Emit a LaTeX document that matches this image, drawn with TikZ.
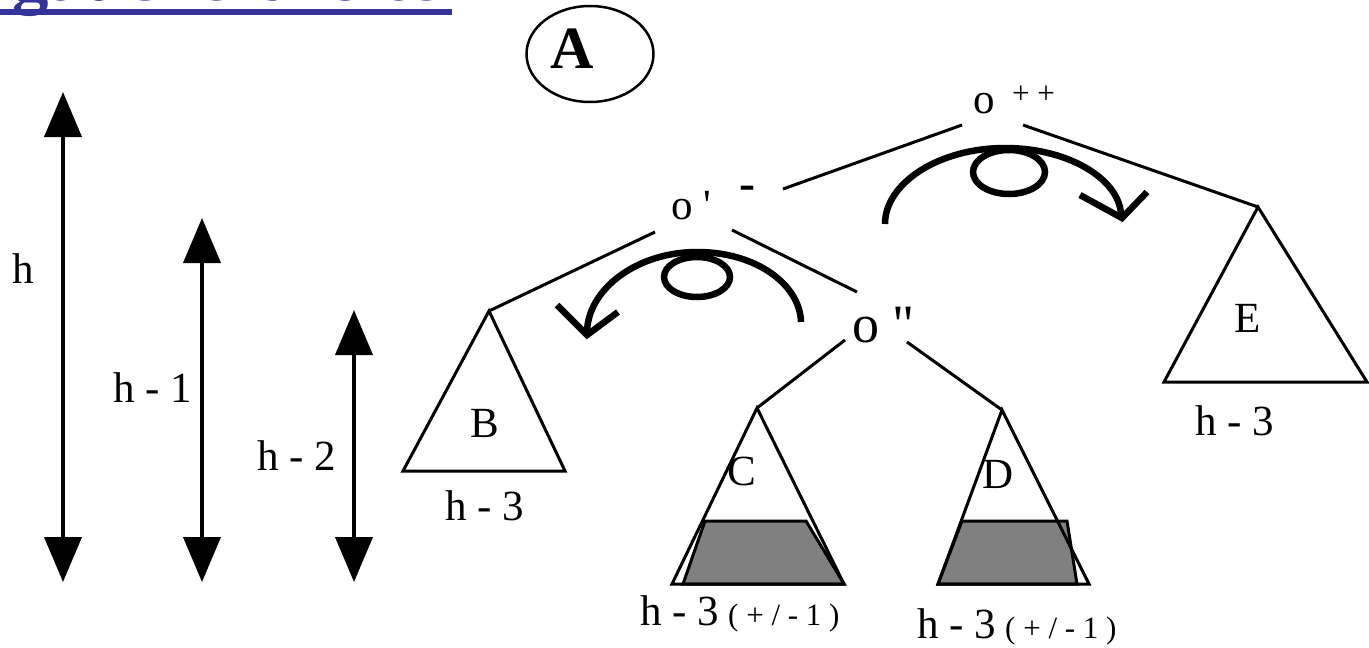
\documentclass[tikz,border=0pt]{standalone}
\usepackage{fontspec}
\setmainfont{Liberation Serif}
\newfontfamily\rawserif{Liberation Serif}
\usetikzlibrary{arrows.meta,shapes.geometric}
\definecolor{titleblue}{RGB}{51,51,153}
\definecolor{shade}{RGB}{128,128,128}
\begin{document}
\begin{tikzpicture}[x=1pt,y=-1pt,
  lbl/.style={font=\fontsize{43}{48}\selectfont, inner sep=0, anchor=base west},
  sm/.style={font=\fontsize{31}{33}\selectfont, inner sep=0, anchor=base west},
  edge/.style={line width=3pt},
  tri/.style={line width=3pt, line join=miter},
  rot/.style={line width=6.5pt},
  vtip/.style={line width=6.5pt, line join=miter},
  dimarrow/.style={line width=4pt, {Triangle[length=45pt,width=37pt]}-{Triangle[length=45pt,width=37pt]}}]
\useasboundingbox (0,0) rectangle (1369,648);
\fill[white] (0,0) rectangle (1369,648);

% cut-off title
\begin{scope}
\clip (0,0) rectangle (1369,648);
\node[font=\bfseries\fontsize{73}{80}\selectfont, text=titleblue, inner sep=0, anchor=base west] (title) at (12,0) {gauche-droite};
\end{scope}
\fill[titleblue] (0,9) rectangle (452,15);

% height arrows
\coordinate (h1t) at (63,92);  \coordinate (h1b) at (63,582);
\coordinate (h2t) at (202,218); \coordinate (h2b) at (202,582);
\coordinate (h3t) at (354,310); \coordinate (h3b) at (354,582);
\draw[dimarrow] (h1t) -- (h1b);
\draw[dimarrow] (h2t) -- (h2b);
\draw[dimarrow] (h3t) -- (h3b);
\node[lbl] (lh) at (12,283) {h};
\node[lbl] (lh1) at (113,402) {h - 1};
\node[lbl] (lh2) at (257,470) {h - 2};

% case A
\node[draw, ellipse, line width=2.5pt, minimum width=127pt, minimum height=96pt, inner sep=0] (ellA) at (590,54) {};
\node[font=\bfseries\fontsize{60}{64}\selectfont, inner sep=0, anchor=base] (A) at (572,68) {A};

% tree nodes
\node[lbl] (opp) at (973,113) {o};
\node[sm] (oppsup) at (1012,103) {+ +};
\node[lbl, font=\rawserif\fontsize{43}{48}\selectfont] (op) at (671,219) {o '};
\node[font=\bfseries\fontsize{48}{50}\selectfont, inner sep=0, anchor=base west] (opm) at (739,199) {-};
\node[font=\rawserif\fontsize{54}{58}\selectfont, inner sep=0, anchor=base west] (opp2) at (852,342) {o "};

% connector end points
\coordinate (oppL) at (962,125); \coordinate (opR1) at (783,189);
\coordinate (oppR) at (1023,125);
\coordinate (opL) at (655,232);
\coordinate (opR) at (732,230); \coordinate (op2T) at (857,292);
\coordinate (op2L) at (845,340);
\coordinate (op2R) at (907,342);
\coordinate (Bt) at (489,311);
\coordinate (Ct) at (757,408);
\coordinate (Dt) at (1002,410);
\coordinate (Et) at (1258,207);

% subtrees
\filldraw[tri, fill=shade] (683,584) -- (705,521) -- (806,521) -- (844,584) -- cycle;
\filldraw[tri, fill=shade] (938,584) -- (962,521) -- (1067,521) -- (1077,584) -- cycle;
\draw[tri] (Bt) -- (403,471) -- (565,471) -- cycle;
\draw[tri] (Ct) -- (672,584) -- (844,584) -- cycle;
\draw[tri] (Dt) -- (938,584) -- (1089,584) -- cycle;
\draw[tri] (Et) -- (1164,382) -- (1367,382) -- cycle;

\node[lbl, anchor=base] (B) at (485,437) {B};
\node[lbl, anchor=base] (C) at (742,485) {C};
\node[lbl, anchor=base] (D) at (998,488) {D};
\node[lbl, anchor=base] (E) at (1248,332) {E};

% edges
\draw[edge] (oppL) -- (opR1);
\draw[edge] (oppR) -- (Et);
\draw[edge] (opL) -- (Bt);
\draw[edge] (opR) -- (op2T);
\draw[edge] (op2L) -- (Ct);
\draw[edge] (op2R) -- (Dt);

% rotations
\draw[rot] (885,224) .. controls (885,183) and (939,148) .. (1005,148) .. controls (1071,148) and (1121,181) .. (1121,216);
\draw[vtip] (1080,195) -- (1122,218) -- (1147,192);
\draw[rot] (1009,172) ellipse [x radius=36pt, y radius=22pt];
\draw[rot] (587,333) .. controls (587,290) and (636,252) .. (697,252) .. controls (757,252) and (800,285) .. (801,322);
\draw[vtip] (557,305) -- (587,335) -- (618,312);
\draw[rot] (697,277) ellipse [x radius=33pt, y radius=20pt];

% heights
\node[lbl] (hB) at (445,520) {h - 3};
\node[lbl] (hE) at (1195,435) {h - 3};
\node[lbl] (hC) at (640,625) {h - 3};
\node[sm] (hCs) at (728,625) {( + / - 1 )};
\node[lbl] (hD) at (917,638) {h - 3};
\node[sm] (hDs) at (1005,638) {( + / - 1 )};
\end{tikzpicture}
\end{document}
